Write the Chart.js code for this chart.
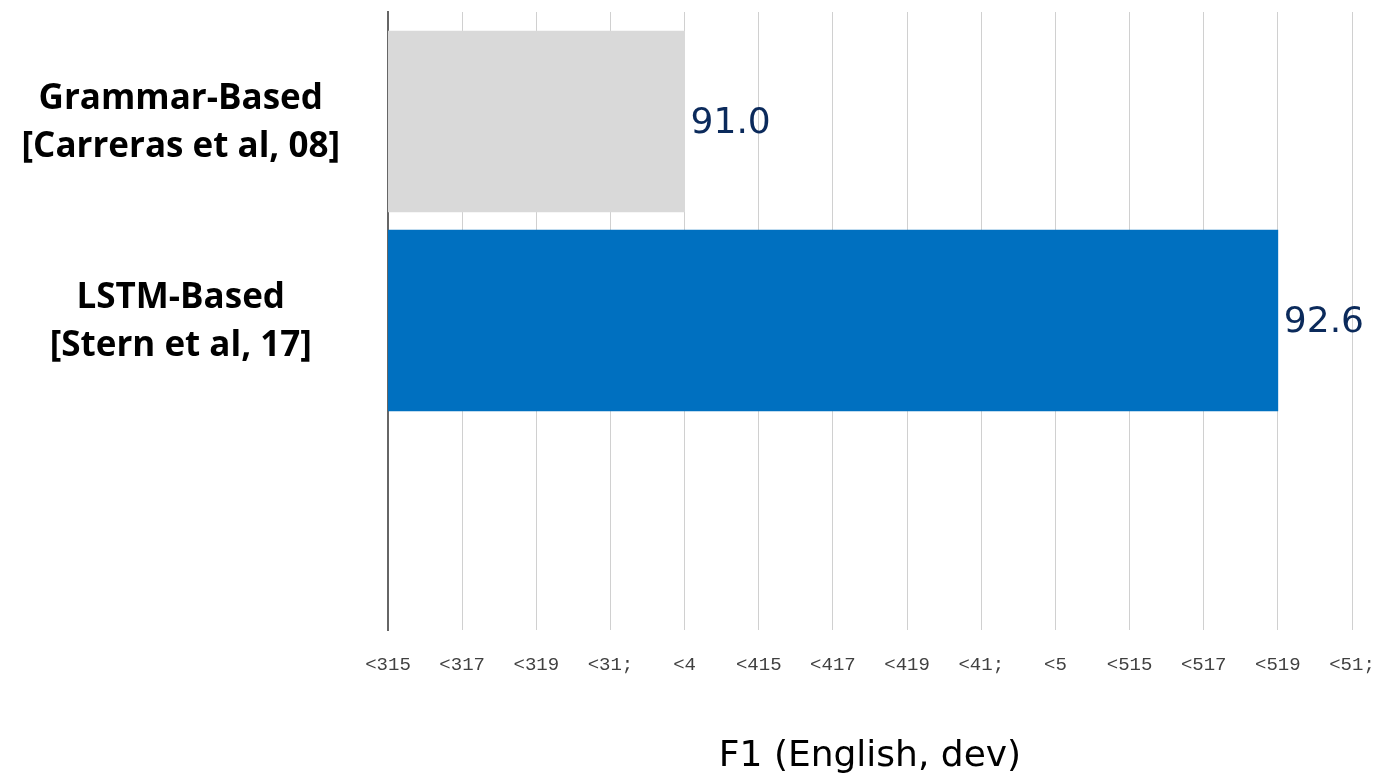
<!DOCTYPE html>
<html><head><meta charset="utf-8">
<script src="https://cdn.jsdelivr.net/npm/chart.js@4.4.1/dist/chart.umd.min.js"></script>
<style>html,body{margin:0;padding:0;background:#fff;} canvas{display:block;}</style>
</head><body>
<canvas id="c" width="1377" height="780"></canvas>
<script>
const categories = [["Grammar-Based", "[Carreras et al, 08]"], ["LSTM-Based", "[Stern et al, 17]"]];
const categoryPositions = [0, 1];
const f1Values = [91.0, 92.6];
const barColors = ['#d9d9d9', '#0070c0'];
const tickValues = [90.2, 90.4, 90.6, 90.8, 91.0, 91.2, 91.4, 91.6, 91.8, 92.0, 92.2, 92.4, 92.6, 92.8];
const tickLabels = ['<315', '<317', '<319', '<31;', '<4', '<415', '<417', '<419', '<41;', '<5', '<515', '<517', '<519', '<51;'];
const axisTitle = 'F1 (English, dev)';

const valueLabels = {
  id: 'valueLabels',
  afterDatasetsDraw(chart) {
    const ctx = chart.ctx;
    const meta = chart.getDatasetMeta(0);
    ctx.save();
    ctx.font = '36px "DejaVu Sans"';
    ctx.fillStyle = '#0b2a5b';
    ctx.textBaseline = 'middle';
    ctx.textAlign = 'left';
    meta.data.forEach((el, i) => {
      ctx.fillText(f1Values[i].toFixed(1), el.x + 6, el.y + 2);
    });
    ctx.restore();
  }
};

new Chart(document.getElementById('c'), {
  type: 'bar',
  data: {
    datasets: [{
      data: f1Values.map((v, i) => ({ x: v, y: categoryPositions[i] })),
      backgroundColor: barColors,
      borderWidth: 0,
      barThickness: 181
    }]
  },
  plugins: [valueLabels],
  options: {
    indexAxis: 'y',
    responsive: false,
    animation: false,
    layout: { padding: { top: 12, right: 25, left: 0, bottom: 0 } },
    plugins: { legend: { display: false }, tooltip: { enabled: false } },
    scales: {
      x: {
        type: 'linear',
        min: 90.2,
        max: 92.8,
        afterBuildTicks: s => { s.ticks = tickValues.map(v => ({ value: v })); },
        ticks: {
          callback: (v, i) => tickLabels[i],
          font: { family: 'Liberation Mono', size: 19 },
          color: '#404040',
          padding: 24,
          maxRotation: 0,
          autoSkip: false
        },
        grid: { color: '#d0d0d0', lineWidth: 1, drawTicks: false },
        border: { display: false },
        title: {
          display: true,
          text: axisTitle,
          font: { family: 'DejaVu Sans', size: 36, lineHeight: 1 },
          color: '#000',
          padding: { top: 0, bottom: 5 }
        },
        afterFit: s => { s.height = 150; s.paddingLeft = 0; s.paddingRight = 0; }
      },
      y: {
        type: 'linear',
        reverse: true,
        offset: false,
        grace: 0,
        min: -0.55,
        max: 2.555,
        afterBuildTicks: s => { s.ticks = categoryPositions.map(v => ({ value: v })); },
        ticks: {
          callback: (v, i) => categories[i],
          font: { family: 'Open Sans', weight: 'bold', size: 35, lineHeight: '48px' },
          color: '#000',
          crossAlign: 'center',
          padding: 40,
          labelOffset: 2,
          autoSkip: false
        },
        grid: { display: false, offset: false },
        border: { display: true, color: '#666666', width: 2 },
        afterFit: s => { s.width = 388; s.paddingTop = 0; s.paddingBottom = 0; }
      }
    }
  }
});
</script>
</body></html>
